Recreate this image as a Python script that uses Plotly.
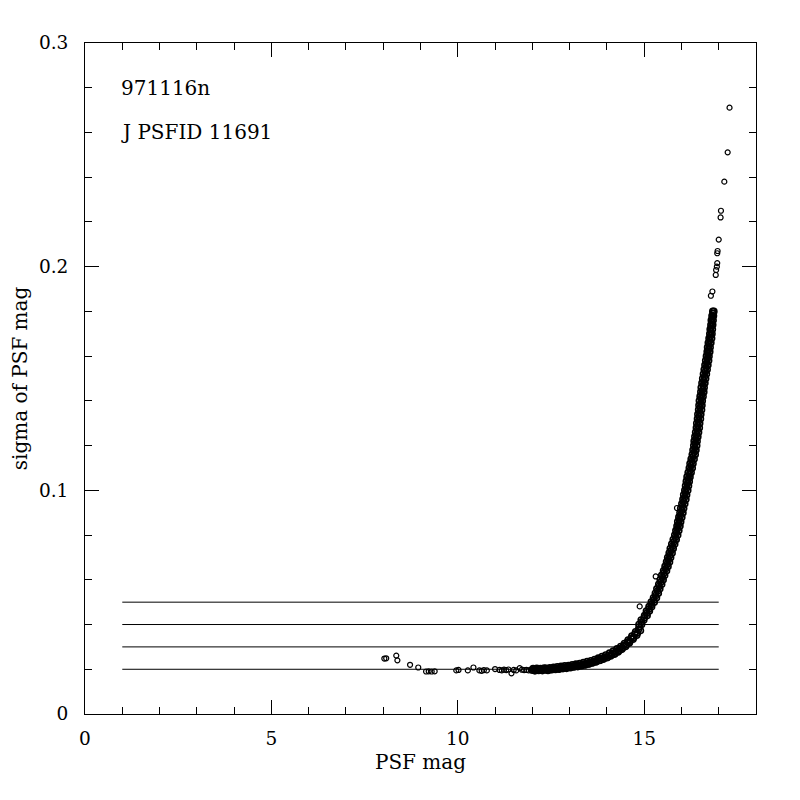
import plotly.graph_objects as go

# ---- data ----
# bright stars (sparse, left part)
mag_bright = [8.03, 8.08, 8.35, 8.38, 8.72, 8.94, 9.15, 9.22, 9.30, 9.38, 9.96, 10.02,
              10.27, 10.42, 10.58, 10.64, 10.70, 10.78, 11.00, 11.12, 11.18, 11.24, 11.30,
              11.36, 11.44, 11.50, 11.57, 11.66, 11.72, 11.78, 11.84, 11.90, 11.96]
sig_bright = [0.0248, 0.0249, 0.0261, 0.0240, 0.0220, 0.0208, 0.0190, 0.0191, 0.0190, 0.0191,
              0.0195, 0.0197, 0.0195, 0.0208, 0.0195, 0.0193, 0.0196, 0.0195, 0.0201, 0.0197,
              0.0195, 0.0198, 0.0196, 0.0199, 0.0182, 0.0197, 0.0195, 0.0205, 0.0198, 0.0196,
              0.0197, 0.0195, 0.0199]

# flat / knee part of the band (two rows)
mag_knee = [12.00, 12.05, 12.10, 12.15, 12.20, 12.25, 12.30, 12.35, 12.40, 12.45, 12.50, 12.55,
            12.60, 12.65, 12.70, 12.75, 12.80, 12.85, 12.90, 12.95, 13.00, 13.05, 13.10, 13.15,
            13.20, 13.25, 13.30, 13.35, 13.40, 13.45, 13.50, 13.55, 13.60, 13.65, 13.70, 13.75,
            13.80, 13.85, 13.90, 13.95, 14.00, 14.05, 14.10, 14.15, 14.20, 14.25, 14.30, 14.35,
            14.40, 14.45, 14.50, 14.55, 14.60, 14.65, 14.70, 14.75, 14.80, 14.85, 14.90]
sig_knee = [0.0196, 0.0199, 0.0197, 0.0200, 0.0196, 0.0199, 0.0201, 0.0197, 0.0200, 0.0202,
            0.0199, 0.0203, 0.0201, 0.0205, 0.0203, 0.0207, 0.0205, 0.0209, 0.0207, 0.0211,
            0.0209, 0.0214, 0.0212, 0.0217, 0.0214, 0.0219, 0.0217, 0.0223, 0.0220, 0.0226,
            0.0224, 0.0231, 0.0228, 0.0236, 0.0233, 0.0242, 0.0239, 0.0249, 0.0245, 0.0255,
            0.0252, 0.0263, 0.0259, 0.0271, 0.0267, 0.0281, 0.0277, 0.0293, 0.0289, 0.0306,
            0.0302, 0.0322, 0.0317, 0.0339, 0.0334, 0.0358, 0.0352, 0.0379, 0.0373]
mag_knee2 = [12.02, 12.07, 12.12, 12.17, 12.22, 12.27, 12.32, 12.37, 12.42, 12.47, 12.52, 12.57,
             12.62, 12.67, 12.72, 12.77, 12.82, 12.87, 12.92, 12.97, 13.02, 13.07, 13.12, 13.17,
             13.22, 13.27, 13.32, 13.37, 13.42, 13.47, 13.52, 13.57, 13.62, 13.67, 13.72, 13.77,
             13.82, 13.87, 13.92, 13.97, 14.02, 14.07, 14.12, 14.17, 14.22, 14.27, 14.32, 14.37,
             14.42, 14.47, 14.52, 14.57, 14.62, 14.67, 14.72, 14.77, 14.82, 14.87]
sig_knee2 = [0.0203, 0.0193, 0.0204, 0.0195, 0.0203, 0.0194, 0.0205, 0.0204, 0.0195, 0.0207,
             0.0198, 0.0209, 0.0199, 0.0211, 0.0200, 0.0213, 0.0203, 0.0215, 0.0204, 0.0217,
             0.0207, 0.0220, 0.0210, 0.0223, 0.0212, 0.0226, 0.0216, 0.0230, 0.0219, 0.0234,
             0.0224, 0.0238, 0.0229, 0.0244, 0.0235, 0.0250, 0.0240, 0.0257, 0.0248, 0.0264,
             0.0254, 0.0272, 0.0264, 0.0281, 0.0271, 0.0291, 0.0283, 0.0302, 0.0295, 0.0315,
             0.0309, 0.0331, 0.0325, 0.0348, 0.0342, 0.0368, 0.0362, 0.0390]

# steep part of the band (left and right edge at each sigma level)
sig_steep = [0.040, 0.042, 0.044, 0.046, 0.048, 0.050, 0.052, 0.054, 0.056, 0.058, 0.060,
             0.062, 0.064, 0.066, 0.068, 0.070, 0.072, 0.074, 0.076, 0.078, 0.080, 0.082,
             0.084, 0.086, 0.088, 0.090, 0.092, 0.094, 0.096, 0.098, 0.100, 0.102, 0.104,
             0.106, 0.108, 0.110, 0.112, 0.114, 0.116, 0.118, 0.120, 0.122, 0.124, 0.126,
             0.128, 0.130, 0.132, 0.134, 0.136, 0.138, 0.140, 0.142, 0.144, 0.146, 0.148,
             0.150, 0.152, 0.154, 0.156, 0.158, 0.160, 0.162, 0.164, 0.166, 0.168, 0.170,
             0.172, 0.174, 0.176, 0.178, 0.180]
mag_steep_left = [14.86, 14.92, 15.01, 15.06, 15.13, 15.19, 15.25, 15.30, 15.34, 15.39, 15.43,
                  15.47, 15.52, 15.56, 15.60, 15.63, 15.67, 15.70, 15.74, 15.78, 15.82, 15.85,
                  15.88, 15.90, 15.93, 15.96, 15.98, 16.01, 16.04, 16.06, 16.09, 16.11, 16.13,
                  16.15, 16.18, 16.21, 16.23, 16.26, 16.29, 16.31, 16.33, 16.34, 16.36, 16.38,
                  16.40, 16.41, 16.43, 16.44, 16.46, 16.47, 16.48, 16.50, 16.52, 16.53, 16.55,
                  16.57, 16.59, 16.61, 16.63, 16.65, 16.67, 16.69, 16.70, 16.72, 16.74, 16.76,
                  16.77, 16.79, 16.80, 16.82, 16.84]
mag_steep_right = [14.93, 14.99, 15.08, 15.14, 15.20, 15.27, 15.33, 15.38, 15.42, 15.47, 15.51,
                   15.55, 15.60, 15.64, 15.68, 15.71, 15.75, 15.78, 15.82, 15.86, 15.90, 15.93,
                   15.96, 15.98, 16.01, 16.04, 16.06, 16.09, 16.12, 16.14, 16.17, 16.19, 16.21,
                   16.23, 16.26, 16.29, 16.31, 16.34, 16.37, 16.39, 16.41, 16.42, 16.44, 16.46,
                   16.48, 16.49, 16.51, 16.52, 16.54, 16.55, 16.56, 16.58, 16.60, 16.61, 16.63,
                   16.65, 16.67, 16.69, 16.71, 16.73, 16.74, 16.76, 16.77, 16.79, 16.81, 16.82,
                   16.83, 16.84, 16.85, 16.86, 16.87]
sig_steep_mid = [0.041, 0.043, 0.045, 0.047, 0.049, 0.051, 0.053, 0.055, 0.057, 0.059, 0.061,
                 0.063, 0.065, 0.067, 0.069, 0.071, 0.073, 0.075, 0.077, 0.079, 0.081, 0.083,
                 0.085, 0.087, 0.089, 0.091, 0.093, 0.095, 0.097, 0.099, 0.101, 0.103, 0.105,
                 0.107, 0.109, 0.111, 0.113, 0.115, 0.117, 0.119, 0.121, 0.123, 0.125, 0.127,
                 0.129, 0.131, 0.133, 0.135, 0.137, 0.139, 0.141, 0.143, 0.145, 0.147, 0.149,
                 0.151, 0.153, 0.155, 0.157, 0.159, 0.161, 0.163, 0.165, 0.167, 0.169, 0.171,
                 0.173, 0.175, 0.177, 0.179]
mag_steep_mid = [14.93, 15.00, 15.07, 15.13, 15.20, 15.26, 15.31, 15.36, 15.40, 15.45, 15.49,
                 15.53, 15.58, 15.62, 15.65, 15.69, 15.72, 15.76, 15.80, 15.84, 15.87, 15.90,
                 15.93, 15.95, 15.98, 16.01, 16.03, 16.06, 16.09, 16.11, 16.14, 16.16, 16.18,
                 16.21, 16.23, 16.26, 16.28, 16.31, 16.34, 16.36, 16.37, 16.39, 16.41, 16.43,
                 16.44, 16.46, 16.47, 16.49, 16.50, 16.52, 16.53, 16.55, 16.57, 16.58, 16.60,
                 16.62, 16.64, 16.66, 16.68, 16.70, 16.71, 16.73, 16.74, 16.76, 16.78, 16.79,
                 16.80, 16.82, 16.83, 16.85]

# faint sparse stars and outliers
mag_faint = [16.79, 16.83, 16.92, 16.93, 16.95, 16.96, 16.96, 16.97, 17.00, 17.05, 17.06,
             17.15, 17.24, 17.29, 14.88, 15.31, 15.88]
sig_faint = [0.1870, 0.1889, 0.1963, 0.1985, 0.2000, 0.2016, 0.2060, 0.2070, 0.2121, 0.2220,
             0.2250, 0.2380, 0.2511, 0.2711, 0.0481, 0.0615, 0.0921]

# reference levels
ref_levels = [0.02, 0.03, 0.04, 0.05]
ref_range = [1, 17]

label_run = "971116n"
label_id = "J PSFID 11691"

FONT = "DejaVu Serif"
TICK_SIZE = 18.5
TEXT_SIZE = 20

fig = go.Figure()

sparse_marker = dict(symbol="circle-open", size=5, color="black", line=dict(width=1.2, color="black"))
band_marker = dict(symbol="circle-open", size=6, color="black", line=dict(width=1.6, color="black"))

for lev in ref_levels:
    fig.add_trace(go.Scatter(x=ref_range, y=[lev, lev], mode="lines",
                             line=dict(color="black", width=1), showlegend=False,
                             hoverinfo="skip"))

for xs, ys in [(mag_knee, sig_knee), (mag_knee2, sig_knee2),
               (mag_steep_left, sig_steep), (mag_steep_right, sig_steep),
               (mag_steep_mid, sig_steep_mid)]:
    fig.add_trace(go.Scatter(x=xs, y=ys, mode="markers", marker=band_marker, showlegend=False))
for xs, ys in [(mag_bright, sig_bright), (mag_faint, sig_faint)]:
    fig.add_trace(go.Scatter(x=xs, y=ys, mode="markers", marker=sparse_marker, showlegend=False))

axis_common = dict(
    showline=True, linecolor="black", linewidth=1, mirror="ticks",
    ticks="inside", ticklen=14, tickwidth=1, tickcolor="black",
    showgrid=False, zeroline=False, automargin=False,
    tickfont=dict(family=FONT, size=TICK_SIZE, color="black"),
    title_font=dict(family=FONT, size=TEXT_SIZE, color="black"),
)

fig.update_xaxes(range=[0, 18], tickvals=[0, 5, 10, 15], ticktext=["0", "5", "10", "15"],
                 minor=dict(dtick=1, ticks="inside", ticklen=7, tickcolor="black", showgrid=False),
                 title=dict(text="PSF mag", standoff=6), ticklabelstandoff=8, **axis_common)
fig.update_yaxes(range=[0, 0.3], tickvals=[0, 0.1, 0.2, 0.3], ticktext=["0", "0.1", "0.2", "0.3"],
                 minor=dict(dtick=0.02, ticks="inside", ticklen=7, tickcolor="black", showgrid=False),
                 title=dict(text="sigma of PSF mag", standoff=10), ticklabelstandoff=12, **axis_common)

fig.add_annotation(x=1.0, y=0.28, xref="x", yref="y", text=label_run, showarrow=False, xshift=-3,
                   xanchor="left", yanchor="middle", font=dict(family=FONT, size=TEXT_SIZE, color="black"))
fig.add_annotation(x=1.0, y=0.26, xref="x", yref="y", text=label_id, showarrow=False, xshift=-3,
                   xanchor="left", yanchor="middle", font=dict(family=FONT, size=TEXT_SIZE, color="black"))

fig.update_layout(width=800, height=800, paper_bgcolor="white", plot_bgcolor="white",
                  margin=dict(l=77, r=52, t=35, b=94, pad=0), showlegend=False)

fig.write_html("out.html")
